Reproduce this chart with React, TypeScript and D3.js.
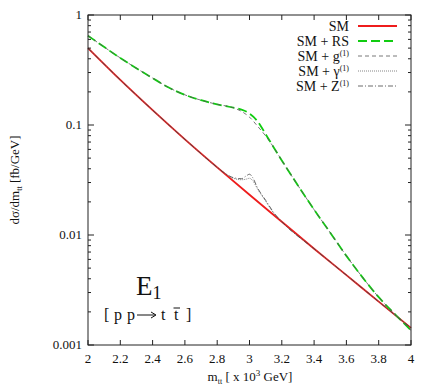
import React from 'react';
import * as d3 from 'd3';

// m_tt in TeV, dσ/dm_tt in fb/GeV
const smX = [2.0, 2.2, 2.4, 2.6, 2.8, 3.0, 3.2, 3.4, 3.6, 3.8, 4.0];
const smY = [0.5, 0.257, 0.1365, 0.0741, 0.0412, 0.0232, 0.0132, 0.0075, 0.00432, 0.00248, 0.00143];

const rsX = [2.0, 2.2, 2.4, 2.5, 2.6, 2.7, 2.8, 2.9, 2.95, 2.99, 3.05, 3.1, 3.15, 3.2, 3.3, 3.4, 3.5, 3.6, 3.7, 3.8, 3.9, 4.0];
const rsY = [0.649, 0.407, 0.267, 0.219, 0.188, 0.168, 0.154, 0.1435, 0.138, 0.130, 0.108, 0.0825, 0.0625, 0.0476, 0.0282, 0.017, 0.0105, 0.00646, 0.00412, 0.00272, 0.00191, 0.00136];

const gX = [2.0, 2.2, 2.4, 2.5, 2.6, 2.7, 2.8, 2.9, 2.95, 3.0, 3.05, 3.1, 3.15, 3.2, 3.3, 3.4, 3.5, 3.6, 3.7, 3.8, 3.9, 4.0];
const gY = [0.649, 0.407, 0.267, 0.219, 0.188, 0.168, 0.154, 0.1435, 0.133, 0.118, 0.0975, 0.0795, 0.0625, 0.0476, 0.0282, 0.017, 0.0105, 0.00646, 0.00412, 0.00272, 0.00191, 0.00136];

const gamX = [2.0, 2.2, 2.4, 2.6, 2.8, 2.85, 2.9, 2.95, 2.98, 3.0, 3.02, 3.05, 3.1, 3.15, 3.2, 3.4, 3.6, 3.8, 4.0];
const gamY = [0.5, 0.257, 0.1365, 0.0741, 0.0412, 0.0362, 0.0328, 0.0318, 0.0322, 0.0328, 0.0312, 0.0262, 0.0203, 0.0158, 0.0132, 0.0075, 0.00432, 0.00248, 0.00143];

const zX = [2.0, 2.2, 2.4, 2.6, 2.8, 2.85, 2.9, 2.95, 2.98, 3.0, 3.02, 3.05, 3.1, 3.15, 3.2, 3.4, 3.6, 3.8, 4.0];
const zY = [0.5, 0.257, 0.1365, 0.0741, 0.0412, 0.0362, 0.0332, 0.0325, 0.0345, 0.0357, 0.0332, 0.0268, 0.0207, 0.016, 0.0132, 0.0075, 0.00432, 0.00248, 0.00143];

const xTicks = [2, 2.2, 2.4, 2.6, 2.8, 3, 3.2, 3.4, 3.6, 3.8, 4];
const yTickLabels = ['0.001', '0.01', '0.1', '1'];

const W = 436;
const H = 387;
const left = 88, right = 411, top = 15, bottom = 345;
const font = '"Liberation Serif", "Times New Roman", serif';

const x = d3.scaleLinear().domain([2, 4]).range([left, right]);
const y = d3.scaleLog().domain([0.001, 1]).range([bottom, top]);

const line = d3.line<[number, number]>()
  .x(d => x(d[0]))
  .y(d => y(d[1]))
  .curve(d3.curveMonotoneX);

const zip = (xs: number[], ys: number[]) => xs.map((v, i) => [v, ys[i]] as [number, number]);

const series = [
  { label: 'SM', sup: '', xs: smX, ys: smY, color: '#ee1c1c', width: 1.8, dash: '' },
  { label: 'SM + RS', sup: '', xs: rsX, ys: rsY, color: '#11cc11', width: 1.8, dash: '9,4' },
  { label: 'SM + g', sup: '(1)', xs: gX, ys: gY, color: '#555', width: 0.8, dash: '4,3' },
  { label: 'SM + \u03b3', sup: '(1)', xs: gamX, ys: gamY, color: '#666', width: 0.8, dash: '1,1' },
  { label: 'SM + Z', sup: '(1)', xs: zX, ys: zY, color: '#444', width: 0.8, dash: '5,2,1,2' },
];

export default function App() {
  const yMinor = y.ticks().filter(t => {
    const l = Math.log10(t);
    return Math.abs(l - Math.round(l)) > 1e-6;
  });
  const decades = yTickLabels.map(s => +s);

  return (
    <div style={{ position: 'fixed', left: 0, top: 0, width: W, height: H, background: '#fff' }}>
      <svg width={W} height={H} style={{ display: 'block' }} fontFamily={font}>
        <rect width={W} height={H} fill="#fff" />

        {/* curves */}
        {series.map(s => (
          <path
            key={s.label + s.sup}
            d={line(zip(s.xs, s.ys)) || ''}
            fill="none"
            stroke={s.color}
            strokeWidth={s.width}
            strokeDasharray={s.dash || undefined}
          />
        ))}

        {/* frame */}
        <rect x={left} y={top} width={right - left} height={bottom - top} fill="none" stroke="#222" strokeWidth={1} />

        {/* x ticks */}
        {xTicks.map(t => (
          <g key={'x' + t}>
            <line x1={x(t)} x2={x(t)} y1={bottom} y2={bottom - 5} stroke="#222" />
            <line x1={x(t)} x2={x(t)} y1={top} y2={top + 5} stroke="#222" />
            <text x={x(t)} y={363} fontSize={13} textAnchor="middle" fill="#111">{d3.format('')(t)}</text>
          </g>
        ))}

        {/* y ticks */}
        {decades.map((t, i) => (
          <g key={'y' + t}>
            <line x1={left} x2={left + 6} y1={y(t)} y2={y(t)} stroke="#222" />
            <line x1={right} x2={right - 6} y1={y(t)} y2={y(t)} stroke="#222" />
            <text x={82} y={y(t) + 4} fontSize={13} textAnchor="end" fill="#111">{yTickLabels[i]}</text>
          </g>
        ))}
        {yMinor.map(t => (
          <g key={'m' + t}>
            <line x1={left} x2={left + 3} y1={y(t)} y2={y(t)} stroke="#222" />
            <line x1={right} x2={right - 3} y1={y(t)} y2={y(t)} stroke="#222" />
          </g>
        ))}

        {/* axis titles */}
        <text x={250} y={381} fontSize={13} textAnchor="middle" fill="#111">
          m<tspan fontSize={8} dy={3}>tt</tspan>
          <tspan dy={-3}> [ x 10</tspan>
          <tspan fontSize={9} dy={-5}>3</tspan>
          <tspan dy={5}> GeV]</tspan>
        </text>
        <text transform="translate(19,180) rotate(-90)" fontSize={13} textAnchor="middle" fill="#111">
          d{'\u03c3'}/dm<tspan fontSize={8} dy={3}>tt</tspan>
          <tspan dy={-3}> [fb/GeV]</tspan>
        </text>

        {/* legend */}
        {series.map((s, i) => {
          const ly = 26 + i * 15;
          return (
            <g key={'l' + i}>
              <text x={349} y={ly + 5} fontSize={14} textAnchor="end" fill="#111">
                {s.label}
                {s.sup && <tspan fontSize={8} dy={-5}>{s.sup}</tspan>}
              </text>
              <line x1={358} x2={397} y1={ly} y2={ly} stroke={s.color} strokeWidth={s.width} strokeDasharray={s.dash || undefined} />
            </g>
          );
        })}

        {/* annotation */}
        <text x={136} y={295} fontSize={27} fill="#111">
          E<tspan fontSize={18} dy={4}>1</tspan>
        </text>
        <g fontSize={16} fill="#111">
          <text x={104} y={320}>[</text>
          <text x={114} y={320}>p</text>
          <text x={127} y={320}>p</text>
          <line x1={137} x2={155} y1={315} y2={315} stroke="#111" strokeWidth={1} />
          <path d="M151,312 L156,315 L151,318" fill="none" stroke="#111" strokeWidth={1} />
          <text x={161} y={320}>t</text>
          <text x={174} y={320}>t</text>
          <line x1={173.5} x2={180} y1={308} y2={308} stroke="#111" strokeWidth={1} />
          <text x={186} y={320}>]</text>
        </g>
      </svg>
    </div>
  );
}
